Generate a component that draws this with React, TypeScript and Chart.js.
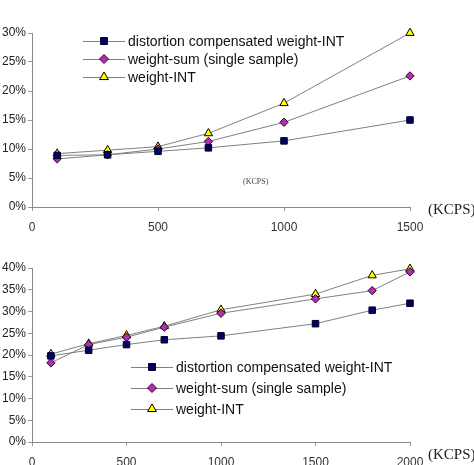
import React, { useEffect, useRef } from "react";
import { Chart, registerables } from "chart.js";

Chart.register(...registerables);

// ---------- Data ----------
const seriesLabels = [
  "distortion compensated weight-INT",
  "weight-sum (single sample)",
  "weight-INT",
];

// Top chart
const topX = [100, 300, 500, 700, 1000, 1500];
const topDistortion = [8.9, 9.0, 9.6, 10.2, 11.4, 15.0];
const topWeightSum = [8.3, 9.0, 10.0, 11.3, 14.6, 22.6];
const topWeightInt = [9.2, 9.8, 10.4, 12.7, 17.9, 30.0];
const topYMax = 30;
const topXMax = 1500;

// Bottom chart
const bottomX = [100, 300, 500, 700, 1000, 1500, 1800, 2000];
const bottomDistortion = [19.8, 21.1, 22.4, 23.5, 24.4, 27.2, 30.3, 31.9];
const bottomWeightSum = [18.2, 22.4, 24.1, 26.4, 29.6, 32.9, 34.8, 39.1];
const bottomWeightInt = [20.2, 22.6, 24.5, 26.6, 30.4, 34.0, 38.3, 39.8];
const bottomYMax = 40;
const bottomXMax = 2000;

const xUnit = "(KCPS)";

// ---------- Styles ----------
const LINE = "#808080";
const markerStyles = [
  { pointStyle: "rect", radius: 4.6, fill: "#000066", border: "#000022" },
  { pointStyle: "rectRot", radius: 4.2, fill: "#b030b0", border: "#2a002a" },
  { pointStyle: "triangle", radius: 4.8, fill: "#ffff00", border: "#000000" },
];
const SANS = "'Liberation Sans', Arial, sans-serif";
const SERIF = "'Liberation Serif', 'Times New Roman', serif";

function drawMarker(ctx: CanvasRenderingContext2D, style: string, x: number, y: number, r: number, fill: string, border: string) {
  ctx.save();
  ctx.beginPath();
  if (style === "rect") {
    const h = r * Math.SQRT1_2;
    ctx.rect(x - h, y - h, 2 * h, 2 * h);
  } else if (style === "rectRot") {
    ctx.moveTo(x, y - r);
    ctx.lineTo(x + r, y);
    ctx.lineTo(x, y + r);
    ctx.lineTo(x - r, y);
    ctx.closePath();
  } else {
    const a = (30 * Math.PI) / 180;
    ctx.moveTo(x, y - r);
    ctx.lineTo(x + r * Math.cos(a), y + r * Math.sin(a));
    ctx.lineTo(x - r * Math.cos(a), y + r * Math.sin(a));
    ctx.closePath();
  }
  ctx.fillStyle = fill;
  ctx.fill();
  ctx.lineWidth = 1;
  ctx.strokeStyle = border;
  ctx.stroke();
  ctx.restore();
}

type Deco = {
  legendX: number;
  legendRows: number[];
  unitY: number;
  smallUnit?: { x: number; y: number };
};

function makeDecoPlugin(deco: Deco) {
  return {
    id: "deco",
    afterDraw(chart: any) {
      const ctx: CanvasRenderingContext2D = chart.ctx;
      ctx.save();
      chart.data.datasets.forEach((ds: any, i: number) => {
        const y = deco.legendRows[i];
        const x0 = deco.legendX;
        ctx.strokeStyle = LINE;
        ctx.lineWidth = 1;
        ctx.beginPath();
        ctx.moveTo(x0, y + 0.5);
        ctx.lineTo(x0 + 42, y + 0.5);
        ctx.stroke();
        const m = markerStyles[i];
        drawMarker(ctx, m.pointStyle, x0 + 21, y, m.radius + 0.3, m.fill, m.border);
        ctx.fillStyle = "#111";
        ctx.font = `14px ${SANS}`;
        ctx.textBaseline = "middle";
        ctx.textAlign = "left";
        ctx.fillText(ds.label, x0 + 45, y + 1);
      });
      ctx.font = `15px ${SERIF}`;
      ctx.fillStyle = "#222";
      ctx.textBaseline = "middle";
      ctx.textAlign = "left";
      ctx.fillText(xUnit, chart.chartArea.right + 18, deco.unitY);
      if (deco.smallUnit) {
        ctx.font = `8px ${SERIF}`;
        ctx.fillStyle = "#444";
        ctx.fillText(xUnit, deco.smallUnit.x, deco.smallUnit.y);
      }
      ctx.restore();
    },
  };
}

function buildConfig(xs: number[], series: number[][], yMax: number, xMax: number, height: number, deco: Deco) {
  const datasets = series.map((vals, i) => {
    const m = markerStyles[i];
    return {
      label: seriesLabels[i],
      data: xs.map((x, j) => ({ x, y: vals[j] })),
      borderColor: LINE,
      borderWidth: 1,
      pointStyle: m.pointStyle,
      pointRadius: m.radius,
      pointBackgroundColor: m.fill,
      pointBorderColor: m.border,
      pointBorderWidth: 1,
      tension: 0,
      fill: false,
      clip: false,
    };
  });
  return {
    type: "line",
    data: { datasets },
    options: {
      responsive: false,
      animation: false,
      events: [],
      layout: { padding: { top: 33, right: 64, left: 0, bottom: 0 } },
      plugins: { legend: { display: false }, tooltip: { enabled: false } },
      scales: {
        x: {
          type: "linear",
          min: 0,
          max: xMax,
          afterFit: (s: any) => {
            s.height = height - 207;
          },
          ticks: {
            stepSize: 500,
            padding: 9,
            color: "#333",
            font: { family: SANS, size: 12 },
            maxRotation: 0,
            callback: (v: any) => String(v),
          },
          grid: { drawOnChartArea: false, drawTicks: true, tickLength: 4, color: "#999" },
          border: { color: "#888", width: 1 },
        },
        y: {
          min: 0,
          max: yMax,
          afterFit: (s: any) => {
            s.width = 32;
          },
          ticks: {
            stepSize: 5,
            padding: 2,
            color: "#222",
            font: { family: SANS, size: 12 },
            callback: (v: any) => `${v}%`,
          },
          grid: { drawOnChartArea: false, drawTicks: true, tickLength: 4, color: "#999" },
          border: { color: "#888", width: 1 },
        },
      },
    },
    plugins: [makeDecoPlugin(deco)],
  };
}

function ChartBox(props: { cfg: any; height: number }) {
  const ref = useRef<HTMLCanvasElement | null>(null);
  useEffect(() => {
    if (!ref.current) return;
    const chart = new Chart(ref.current, props.cfg);
    return () => chart.destroy();
  }, []);
  return <canvas ref={ref} width={474} height={props.height} style={{ display: "block", width: 474, height: props.height }} />;
}

export default function App() {
  const topH = 235;
  const botH = 230;
  const topCfg = buildConfig(
    topX,
    [topDistortion, topWeightSum, topWeightInt],
    topYMax,
    topXMax,
    topH,
    { legendX: 83, legendRows: [41, 59, 77], unitY: 210, smallUnit: { x: 243, y: 182 } }
  );
  const botCfg = buildConfig(
    bottomX,
    [bottomDistortion, bottomWeightSum, bottomWeightInt],
    bottomYMax,
    bottomXMax,
    botH,
    { legendX: 131, legendRows: [132, 153, 174], unitY: 220 }
  );
  return (
    <div style={{ position: "absolute", left: 0, top: 0, width: 474, height: 465, background: "#fff", overflow: "hidden" }}>
      <ChartBox cfg={topCfg} height={topH} />
      <ChartBox cfg={botCfg} height={botH} />
    </div>
  );
}
